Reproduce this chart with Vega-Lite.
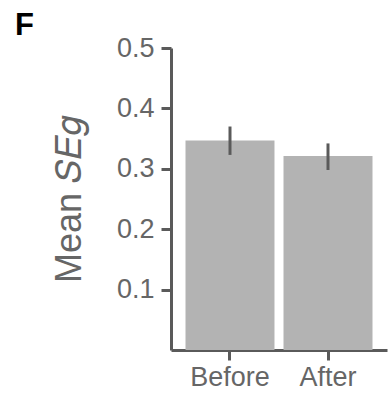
{
  "$schema": "https://vega.github.io/schema/vega-lite/v6.json",
  "width": 216,
  "height": 302,
  "autosize": "none",
  "padding": {"left": 171, "top": 48, "right": 3, "bottom": 46},
  "background": "white",
  "title": {"text": "F", "anchor": "start", "frame": "group", "orient": "top", "baseline": "alphabetic", "dx": -156, "dy": 32, "offset": 0, "fontSize": 31, "font": "Liberation Sans", "fontWeight": "bold", "color": "black"},
  "config": {"view": {"stroke": null}},
  "data": {"values": [
    {"group": "Before", "mean": 0.347, "lo": 0.323, "hi": 0.370},
    {"group": "After", "mean": 0.321, "lo": 0.298, "hi": 0.342}
  ]},
  "encoding": {
    "x": {"field": "group", "type": "nominal", "sort": ["Before", "After"],
      "scale": {"paddingInner": 0.092, "paddingOuter": 0.148},
      "axis": {"title": null, "labelAngle": 0, "labelFont": "Liberation Sans", "labelFontSize": 27, "labelColor": "#666666", "labelPadding": 4, "tickSize": 10, "tickWidth": 3, "tickColor": "#5a5a5a", "domainColor": "#5a5a5a", "domainWidth": 3, "grid": false}}
  },
  "layer": [
    {"mark": {"type": "bar", "color": "#b3b3b3"},
     "encoding": {"y": {"field": "mean", "type": "quantitative", "scale": {"domain": [0, 0.5]},
       "axis": {"values": [0.1, 0.2, 0.3, 0.4, 0.5], "format": ".1f", "title": "Mean 𝑆𝐸𝑔", "titleFont": "Liberation Sans", "titleFontSize": 36, "titleFontWeight": "normal", "titleColor": "#666666", "titlePadding": 28, "labelFont": "Liberation Sans", "labelFontSize": 27, "labelColor": "#666666", "labelPadding": 7, "tickSize": 10, "tickWidth": 3, "tickColor": "#5a5a5a", "domainColor": "#5a5a5a", "domainWidth": 3, "grid": false}}}},
    {"mark": {"type": "rule", "color": "#5a5a5a", "strokeWidth": 3},
     "encoding": {"y": {"field": "lo", "type": "quantitative"}, "y2": {"field": "hi"}}}
  ]
}
